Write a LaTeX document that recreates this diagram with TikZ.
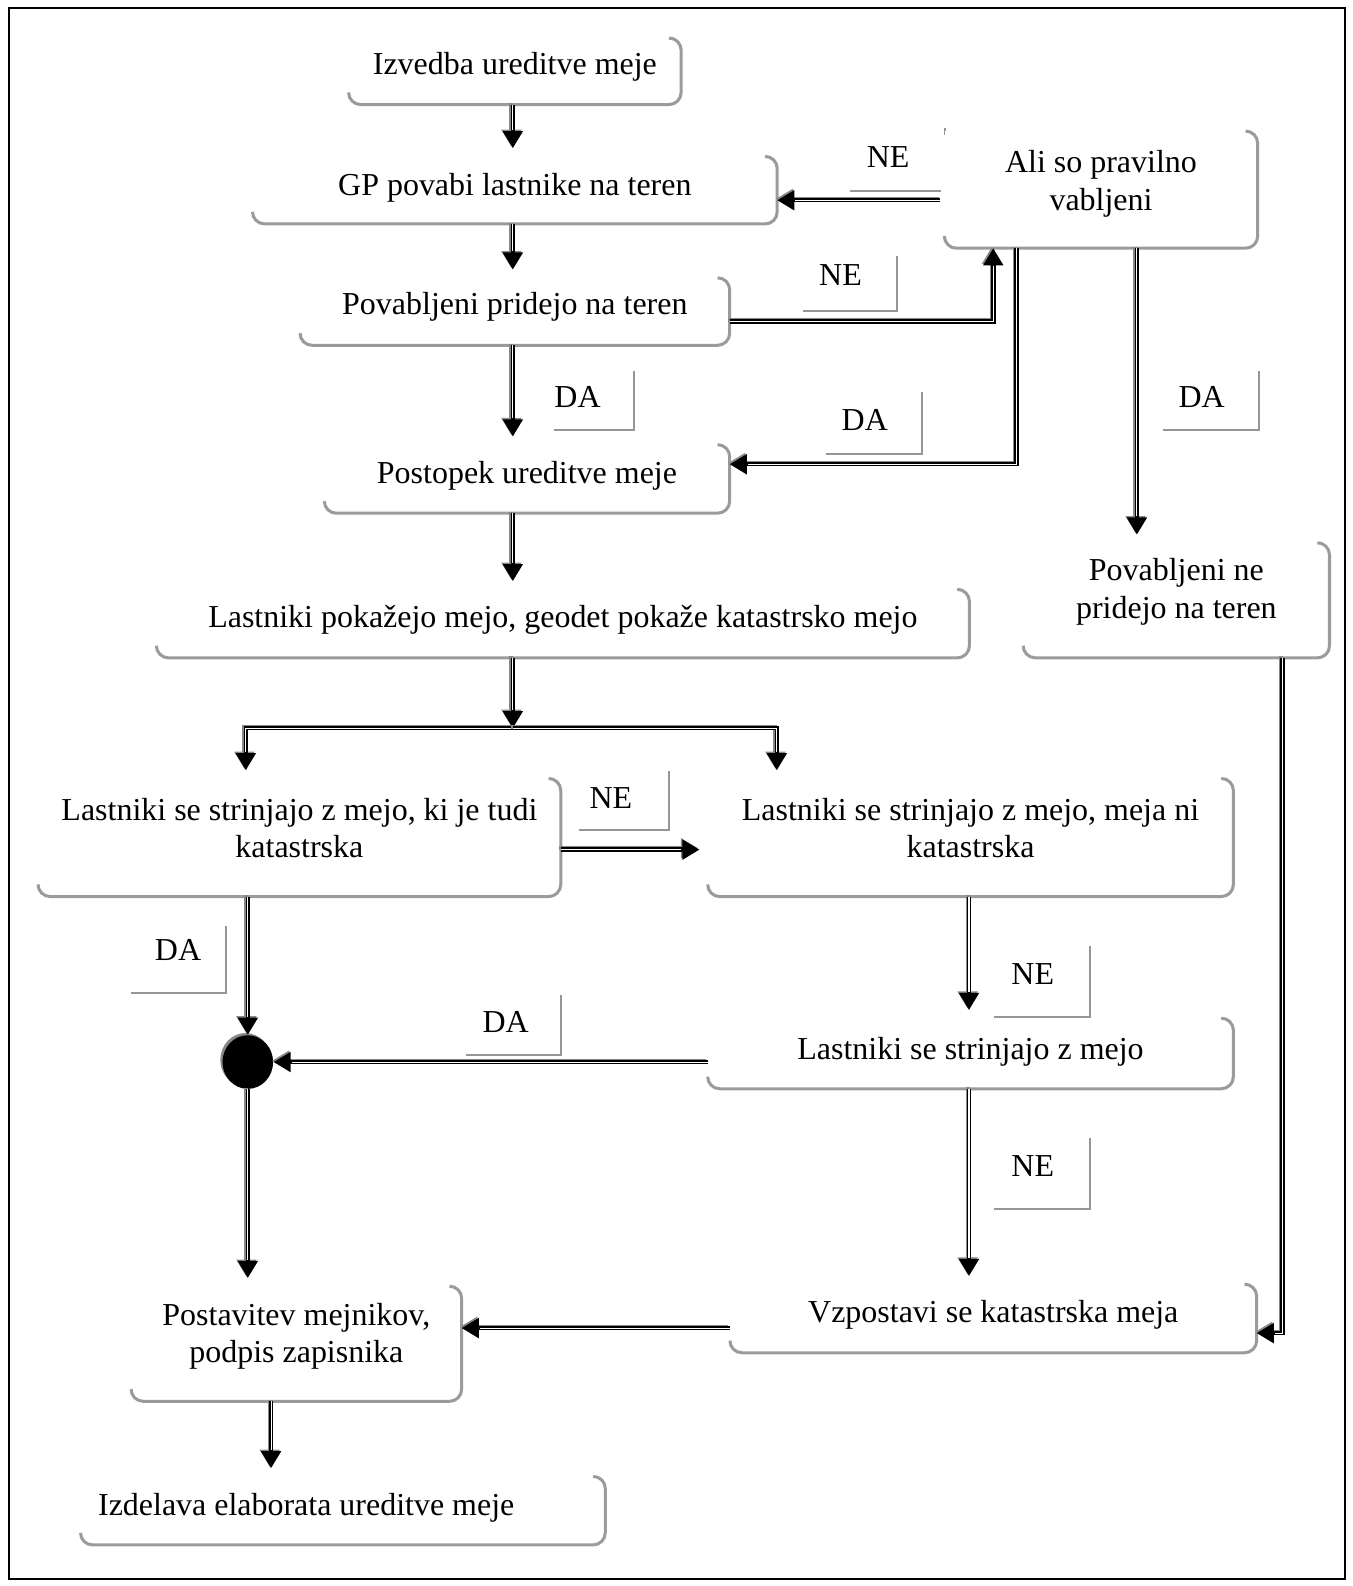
\documentclass[tikz,border=0pt]{standalone}
\usepackage{fontspec}
\setmainfont{Liberation Serif}
\usetikzlibrary{arrows.meta,calc,shapes.geometric}

\definecolor{edgegrey}{RGB}{155,155,155}
\definecolor{tickgrey}{RGB}{150,150,150}
\definecolor{shadegrey}{RGB}{135,135,135}

\tikzset{
  every node/.style={font=\fontsize{15.8}{18.5}\selectfont},
  flowbox/.style={draw=none, fill=white, inner xsep=0pt, inner ysep=0pt, align=center},
  boxedge/.style={draw=edgegrey, line width=1.5pt, rounded corners=6pt},
  tickline/.style={draw=tickgrey, line width=1pt},
  lbl/.style={inner sep=0pt},
  tipshape/.style={-{Triangle[width=9.5pt,length=8.5pt]}},
  conn/.style={draw=black, line width=2.2pt, tipshape,
    preaction={draw=shadegrey, line width=2pt, tipshape,
      transform canvas={shift={(-0.7pt,0.7pt)}}},
    postaction={draw=white, line width=0.55pt, -, shorten >=9pt}},
  vconn/.style={draw=black, line width=2.2pt, tipshape, shorten >=4pt,
    preaction={draw=shadegrey, line width=2pt, tipshape,
      transform canvas={shift={(-0.7pt,0.7pt)}}},
    postaction={draw=white, line width=0.55pt, -, shorten >=13pt}},
}

% [options]{name}{left}{top}{right}{bottom}{last baseline}{text}
\newcommand\flowbox[8][]{%
  \pgfmathsetmacro\fbw{(#5-#3)*0.5}%
  \pgfmathsetmacro\fbh{(#6-#4)*0.5}%
  \pgfmathsetmacro\fbth{(#7-#4)*0.5}%
  \pgfmathsetmacro\fbtd{(#6-#7)*0.5}%
  \node[flowbox, minimum width=\fbw pt, minimum height=\fbh pt,
        text height=\fbth pt, text depth=\fbtd pt, #1]
    (#2) at ({(#3+#5)/2},{(#4+#6)/2}) {#8};
  \draw[boxedge] ([yshift=6pt]#2.south west) -- (#2.south west)
    -- (#2.south east) -- (#2.north east) -- ([xshift=-6pt]#2.north east);
}

% {name}{x}{y}{text}{L left}{L right}{L top}{L bottom}
\newcommand\answer[8]{%
  \node[lbl] (#1) at (#2,#3) {#4};
  \draw[tickline] (#5,#8) -- (#6,#8) -- (#6,#7);
}

\begin{document}
\begin{tikzpicture}[x=0.5pt, y=-0.5pt]
\useasboundingbox (0,0) rectangle (1337,1568);
\draw[line width=1pt] (9,8) rectangle (1330,1561);

% yes / no labels
\answer{da1}{571}{392}{DA}{548}{627}{367}{425}
% this one is partly hidden behind the question box
\node[lbl] (ne1) at (878,155) {NE};
\draw[tickline] (840,189) -- (930,189);
\draw[tickline] (934,127) -- (934,133);
\answer{ne2}{831}{272}{NE}{794}{887}{253}{307}
\answer{da2}{855}{415}{DA}{817}{912}{388}{449}
\answer{da3}{1188}{392}{DA}{1150}{1245}{367}{425}
\answer{ne3}{604}{789}{NE}{572}{661}{762}{821}
\answer{da4}{176}{939}{DA}{130}{223}{915}{982}
\answer{da5}{500}{1010}{DA}{461}{555}{984}{1043}
\answer{ne4}{1021}{963}{NE}{983}{1078}{935}{1005}
\answer{ne5}{1021}{1153}{NE}{983}{1078}{1125}{1195}

% process steps
\flowbox{iz}{345}{38}{673}{103}{74}{Izvedba ureditve meje}
\flowbox{gp}{250}{155}{768}{221}{193}{GP povabi lastnike na teren}
\flowbox{ali}{934}{130}{1243}{245}{208}{Ali so pravilno\\vabljeni}
\flowbox{pp}{297}{275}{721}{341}{311}{Povabljeni pridejo na teren}
\flowbox{po}{321}{440}{721}{507}{478}{Postopek ureditve meje}
\flowbox{lp}{155}{583}{958}{650}{620}{Lastniki pokažejo mejo, geodet pokaže katastrsko mejo}
\flowbox{pn}{1012}{537}{1314}{650}{611}{Povabljeni ne\\pridejo na teren}
\flowbox{sa}{38}{770}{554}{886}{848}{Lastniki se strinjajo z mejo, ki je tudi\\katastrska}
\flowbox{sb}{700}{770}{1219}{886}{848}{Lastniki se strinjajo z mejo, meja ni\\katastrska}
\flowbox{sc}{700}{1007}{1219}{1076}{1047}{Lastniki se strinjajo z mejo}
\flowbox{vz}{722}{1270}{1242}{1337}{1307}{Vzpostavi se katastrska meja}
\flowbox{pm}{130}{1272}{456}{1385}{1347}{Postavitev mejnikov,\\podpis zapisnika}
\flowbox[text width=242pt, inner xsep=8.5pt, align=flush left]{ie}{80}{1460}{598}{1527}{1498}{Izdelava elaborata ureditve meje}

% junction dot
\node[ellipse, fill=black, minimum width=25pt, minimum height=26.5pt, inner sep=0pt,
      preaction={fill=shadegrey, transform canvas={shift={(-1.1pt,1.1pt)}}}] (dot) at (245,1050) {};

% routing coordinates
\coordinate (cA) at (507,0);
\coordinate (cR) at (958,0);
\coordinate (cM) at (268,0);
\coordinate (cQ) at (1124,0);
\coordinate (split) at (507,720);
\coordinate (barL) at (243,720);
\coordinate (barR) at (768,720);
\coordinate (fY) at (0,840);
\coordinate (lY) at (0,1313);
\coordinate (nY) at (0,198);
\coordinate (oK) at (982,318);
\coordinate (pK) at (1005,459);
\coordinate (rK) at (1268,1318);

% main column
\draw[vconn] (iz.south -| cA) -- (gp.north -| cA);
\draw[vconn] (gp.south -| cA) -- (pp.north -| cA);
\draw[vconn] (pp.south -| cA) -- (po.north -| cA);
\draw[vconn] (po.south -| cA) -- (lp.north -| cA);
\draw[conn] (lp.south -| cA) -- (split);
\draw[vconn] (split) -| (sa.north -| barL);
\draw[vconn] (split) -| (sb.north -| barR);

% invitation check
\draw[conn] ([xshift=-2pt]ali.west |- nY) -- (gp.east |- nY);
\draw[conn] (pp.east |- oK) -- (oK) -- (ali.south -| oK);
\draw[conn] (ali.south -| pK) -- (pK) -- (po.east |- pK);
\draw[vconn] (ali.south -| cQ) -- (pn.north -| cQ);
\draw[conn] (pn.south -| rK) -- (rK) -- (vz.east |- rK);

% agreement branches
\draw[vconn] (sa.east |- fY) -- (sb.west |- fY);
\draw[conn] (sa.south -| dot) -- (dot.north);
\draw[conn] (sc.west |- dot) -- (dot.east);
\draw[vconn] (dot.south) -- (pm.north -| dot);
\draw[vconn] (sb.south -| cR) -- (sc.north -| cR);
\draw[vconn] (sc.south -| cR) -- (vz.north -| cR);
\draw[conn] (vz.west |- lY) -- (pm.east |- lY);
\draw[vconn] (pm.south -| cM) -- (ie.north -| cM);
\end{tikzpicture}
\end{document}
